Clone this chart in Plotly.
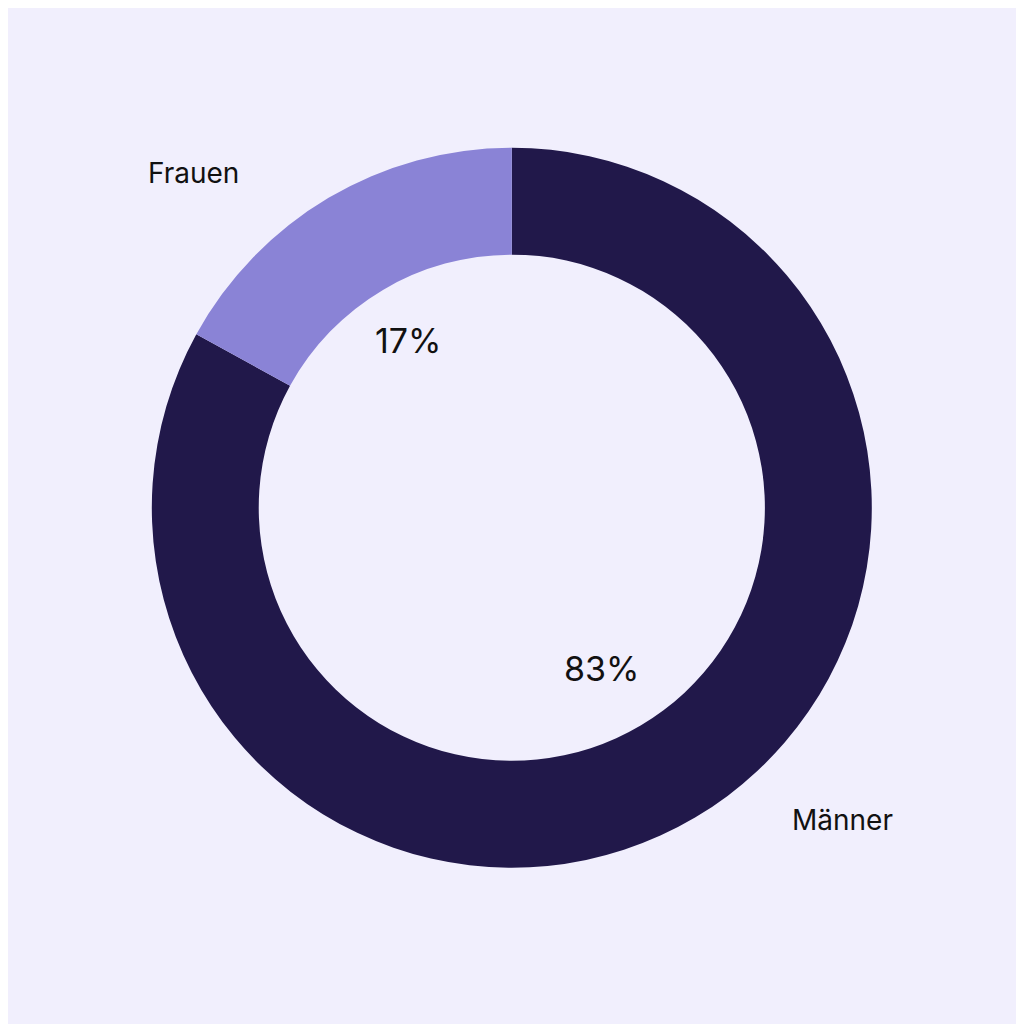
import math
import plotly.graph_objects as go

# data
labels = ["Männer", "Frauen"]
values = [83, 17]
colors = ["#21184a", "#8a83d6"]

# outside name labels (paper coords)
name_pos = {"Frauen": (0.1807, 0.839), "Männer": (0.8145, 0.207)}

bg = "#f1effd"
cx, cy = 0.492, 0.512
r_out = 360 / 1024
r_lab = 0.186

fig = go.Figure(
    go.Pie(
        labels=labels,
        values=values,
        hole=0.703,
        sort=False,
        direction="clockwise",
        rotation=0,
        marker=dict(colors=colors, line=dict(width=0)),
        textinfo="none",
        hoverinfo="label+percent",
        domain=dict(x=[cx - r_out, cx + r_out], y=[cy - r_out, cy + r_out]),
        showlegend=False,
    )
)

# percent labels inside the hole, placed at each slice's mid angle
annotations = []
total = sum(values)
start = 0.0
for lab, v in zip(labels, values):
    mid = (start + v / 2) / total * 2 * math.pi
    start += v
    annotations.append(
        dict(
            x=cx + r_lab * math.sin(mid),
            y=cy + r_lab * math.cos(mid),
            xref="paper",
            yref="paper",
            xanchor="center",
            yanchor="middle",
            xshift=-7,
            yshift=3,
            text="{}%".format(round(v / total * 100)),
            showarrow=False,
            font=dict(size=34, color="#111111", family="Inter"),
        )
    )
    nx, ny = name_pos[lab]
    annotations.append(
        dict(
            x=nx,
            y=ny,
            xref="paper",
            yref="paper",
            xanchor="center",
            yanchor="middle",
            text=lab,
            showarrow=False,
            font=dict(size=28, color="#111111", family="Inter"),
        )
    )

fig.update_layout(
    width=1024,
    height=1024,
    margin=dict(l=0, r=0, t=0, b=0),
    paper_bgcolor=bg,
    plot_bgcolor=bg,
    annotations=annotations,
)

fig.write_html("out.html")
